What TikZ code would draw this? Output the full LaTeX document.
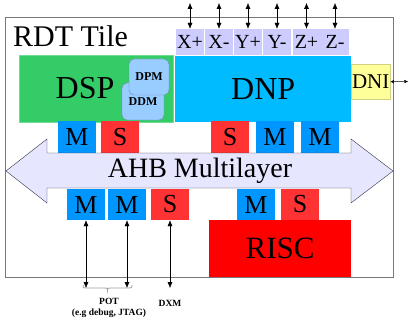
\documentclass[tikz,border=0pt]{standalone}
\usepackage{fontspec}
\setmainfont{Liberation Serif}
\usepackage{tikz}
\usetikzlibrary{arrows.meta}

\definecolor{tileline}{RGB}{120,120,120}
\definecolor{portblue}{RGB}{204,204,255}
\definecolor{dspgreen}{RGB}{51,204,102}
\definecolor{memblue}{RGB}{153,204,255}
\definecolor{memline}{RGB}{110,140,170}
\definecolor{dnpblue}{RGB}{0,187,255}
\definecolor{dniyellow}{RGB}{255,255,153}
\definecolor{dniline}{RGB}{210,210,130}
\definecolor{mastblue}{RGB}{0,150,255}
\definecolor{slavered}{RGB}{255,51,51}
\definecolor{riscred}{RGB}{255,0,0}
\definecolor{busfill}{RGB}{230,230,255}
\definecolor{busline}{RGB}{50,50,70}
\definecolor{braceline}{RGB}{160,160,160}

\tikzset{
  unit/.style={inner sep=0pt, anchor=north west},
  portbox/.style={fill=portblue, inner sep=0pt, minimum width=28, minimum height=26,
    font=\fontsize{20}{22}\selectfont},
  mport/.style={fill=mastblue, inner sep=0pt, minimum width=38, minimum height=32,
    font=\fontsize{26}{28}\selectfont},
  sport/.style={mport, fill=slavered},
  membox/.style={draw=memline, fill=memblue, rounded corners=5, inner sep=0pt,
    minimum width=40, minimum height=36, font=\bfseries\fontsize{12}{14}\selectfont},
  link/.style={{Latex[length=6pt,width=5pt]}-{Latex[length=6pt,width=5pt]}, thin},
  note/.style={font=\bfseries\fontsize{9.5}{11}\selectfont, align=center, inner sep=0pt}
}

\begin{document}
\begin{tikzpicture}[x=1pt, y=-1pt]
  \useasboundingbox (0,0) rectangle (415,321);
  % tile outline
  \node[unit, draw=tileline, line width=1.2pt, fill=white, minimum width=388, minimum height=260]
    (tile) at (5,17) {};
  \node[anchor=base west, inner sep=0pt, font=\fontsize{30}{32}\selectfont] (title) at (13,47) {RDT Tile};

  % network ports
  \node[portbox] (xp) at (190,42)   {X+};
  \node[portbox] (xm) at (219,42)   {X-};
  \node[portbox] (yp) at (248,42)   {Y+};
  \node[portbox] (ym) at (277,42)   {Y-};
  \node[portbox] (zp) at (306.5,42) {Z+};
  \node[portbox] (zm) at (335,42)   {Z-};
  \coordinate (xpo) at (190,3);
  \coordinate (xmo) at (219,3);
  \coordinate (ypo) at (248,3);
  \coordinate (ymo) at (277,3);
  \coordinate (zpo) at (306.5,3);
  \coordinate (zmo) at (335,3);
  \draw[link] (xp.north) -- (xpo);
  \draw[link] (xm.north) -- (xmo);
  \draw[link] (yp.north) -- (ypo);
  \draw[link] (ym.north) -- (ymo);
  \draw[link] (zp.north) -- (zpo);
  \draw[link] (zm.north) -- (zmo);

  % processors
  \node[unit, draw=dspgreen!70!white, fill=dspgreen, minimum width=154, minimum height=67]
    (dsp) at (19,55) {};
  \node[font=\fontsize{32}{34}\selectfont, inner sep=0pt] (dsplbl) at (85,88) {DSP};
  \node[membox, minimum width=42, minimum height=37] (ddm) at (143,101.5) {DDM};
  \node[membox] (dpm) at (149,77) {DPM};
  \node[unit, fill=dnpblue, minimum width=176, minimum height=66,
    font=\fontsize{32}{34}\selectfont] (dnp) at (175,56) {};
  \node[font=\fontsize{32}{34}\selectfont, inner sep=0pt] (dnplbl) at (dnp.center) {DNP};
  \node[unit, draw=dniline, fill=dniyellow, minimum width=39, minimum height=35] (dni) at (351,64) {};
  \node[font=\fontsize{21}{23}\selectfont, inner sep=0pt] (dnilbl) at (dni.center) {DNI};
  \coordinate (dnio) at (408,81.5);
  \draw[{Latex[length=3.5pt,width=3.5pt]}-{Latex[length=3.5pt,width=3.5pt]}, thin] (dni.east) -- (dnio);

  % upper bus ports
  \node[mport] (m1) at (77,137)  {M};
  \node[sport] (s1) at (120,137) {S};
  \node[sport] (s2) at (230,137) {S};
  \node[mport] (m2) at (275,137) {M};
  \node[mport] (m3) at (320,137) {M};

  % AHB bus
  \draw[draw=busline, fill=busfill, thin] (6,171) -- (47,139) -- (47,153) -- (351,153) -- (351,139)
    -- (393,171) -- (351,203) -- (351,188) -- (47,188) -- (47,203) -- cycle;
  \node[font=\fontsize{28}{30}\selectfont, inner sep=0pt] (ahb) at (200,171) {AHB Multilayer};

  % lower bus ports
  \node[mport, minimum height=31] (m4) at (86,204.5)  {M};
  \node[mport, minimum height=31] (m5) at (127,204.5) {M};
  \node[sport, minimum height=31] (s3) at (170,204.5) {S};
  \node[mport, minimum height=31] (m6) at (256,204.5) {M};
  \node[sport, minimum height=31] (s4) at (300,204.5) {S};
  \node[unit, fill=riscred, minimum width=142, minimum height=57] (risc) at (209,220) {};
  \node[font=\fontsize{31}{33}\selectfont, inner sep=0pt] (risclbl) at (risc.center) {RISC};

  % external links
  \coordinate (m4o) at (86,288);
  \coordinate (m5o) at (127,288);
  \coordinate (s3o) at (170,288);
  \draw[link] (m4.south) -- (m4o);
  \draw[link] (m5.south) -- (m5o);
  \draw[link] (s3.south) -- (s3o);
  \draw[braceline, line width=0.8pt] (83,285) .. controls (83,288) .. (86,288) -- (104.5,288)
    .. controls (107.5,288) .. (107.5,291) .. controls (107.5,288) .. (110.5,288) -- (129,288)
    .. controls (132,288) .. (132,285);
  \node[note] (pot) at (109,307.5) {POT\\(e.g debug, JTAG)};
  \node[note] (dxm) at (170,303) {DXM};
\end{tikzpicture}
\end{document}
